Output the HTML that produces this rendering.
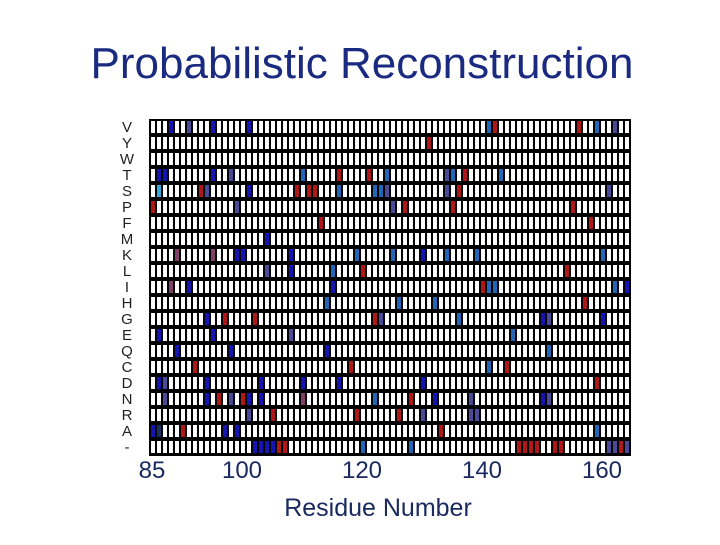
<!DOCTYPE html>
<html><head><meta charset="utf-8"><style>
body{margin:0;background:#fff;}
svg text{font-family:"Liberation Sans",Arial,sans-serif;}
</style></head><body>
<svg id="chart" width="720" height="540" viewBox="0 0 720 540" xmlns="http://www.w3.org/2000/svg">
<text x="362" y="78" font-size="44" fill="#1a2a80" text-anchor="middle">Probabilistic Reconstruction</text>
<rect x="149" y="119" width="482" height="337" fill="#000"/>
<g id="cells"></g>
<g id="ylabels"></g>
<g id="xticks"></g>
<text x="378" y="516" font-size="25" fill="#1a2a60" text-anchor="middle">Residue Number</text>
</svg>
<script>
const rowLabels = ["V","Y","W","T","S","P","F","M","K","L","I","H","G","E","Q","C","D","N","R","A","-"];
const firstResidue = 85;
const numResidues = 80;
const xTickValues = [85,100,120,140,160];
// [row, residue offset column, color key]
const cellRows = [0,0,0,0,0,0,0,0,0, 1, 3,3,3,3,3,3,3,3,3,3,3,3, 4,4,4,4,4,4,4,4,4,4,4,4,4,4, 5,5,5,5,5,5, 6,6, 7, 8,8,8,8,8,8,8,8,8,8,8, 9,9,9,9,9, 10,10,10,10,10,10,10,10, 11,11,11,11, 12,12,12,12,12,12,12,12,12, 13,13,13,13, 14,14,14,14, 15,15,15,15, 16,16,16,16,16,16,16,16, 17,17,17,17,17,17,17,17,17,17,17,17,17,17, 18,18,18,18,18,18,18, 19,19,19,19,19,19,19, 20,20,20,20,20,20,20,20,20,20,20,20,20,20,20,20,20,20];
const cellCols = [3,6,10,16,56,57,71,74,77, 46, 1,2,10,13,25,31,36,39,49,50,52,58, 1,8,9,16,24,26,27,31,37,38,39,49,51,76, 0,14,40,42,50,70, 28,73, 19, 4,10,14,15,23,34,40,45,49,54,75, 19,23,30,35,69, 3,6,30,55,56,57,77,79, 29,41,47,72, 9,12,17,37,38,51,65,66,75, 1,10,23,60, 4,13,29,66, 7,33,56,59, 1,2,9,18,25,31,45,74, 2,9,11,13,15,16,18,25,37,43,47,53,65,66, 16,20,34,41,45,53,54, 0,1,5,12,14,48,74, 17,18,19,20,21,22,35,43,61,62,63,64,67,68,76,77,78,79];
const cellKinds = ["B","P","B","B","L","R","R","L","P", "R", "B","B","B","P","L","R","R","L","P","L","R","L", "C","R","P","B","R","R","R","L","L","L","P","P","R","P", "R","P","P","R","R","R", "R","R", "B", "M","M","B","B","B","L","L","B","L","L","L", "P","B","L","R","R", "M","B","B","R","L","L","L","B", "L","L","L","R", "B","R","R","R","P","L","B","P","B", "B","B","P","L", "B","B","B","L", "R","R","L","R", "B","P","B","B","B","B","B","R", "P","B","R","P","R","B","B","M","L","R","B","P","B","P", "P","R","R","R","P","P","P", "B","D","R","B","B","R","L", "B","B","B","B","R","R","L","L","R","R","R","R","R","R","P","P","R","P"];
const palette = {B:"#1414b0",P:"#4a4a98",L:"#2266b8",R:"#b01818",C:"#33aadd",M:"#804068",D:"#183060"};
const NS="http://www.w3.org/2000/svg";
const x0=149, colW=6, y0=119, rowH=16;
function xCol(c){return x0+2+c*colW;}
function yRow(r){return y0+2+r*rowH;}
function xRes(res){return x0+3+(res-firstResidue)*colW;}
const cg=document.getElementById('cells');
const colorMap={};
for(let i=0;i<cellRows.length;i++){colorMap[cellRows[i]+"_"+cellCols[i]]=palette[cellKinds[i]];}
for(let r=0;r<rowLabels.length;r++){
  for(let c=0;c<numResidues;c++){
    const rect=document.createElementNS(NS,'rect');
    
    
    rect.setAttribute('x',xCol(c));rect.setAttribute('y',yRow(r));
    rect.setAttribute('width',4);rect.setAttribute('height',12);
    rect.setAttribute('fill',colorMap[r+"_"+c]||"#fff");
    cg.appendChild(rect);
  }
}
const yg=document.getElementById('ylabels');
rowLabels.forEach((l,r)=>{
  const t=document.createElementNS(NS,'text');
  
  
  t.setAttribute('x',127);t.setAttribute('y',yRow(r)+11);
  t.setAttribute('font-size',15);t.setAttribute('text-anchor','middle');t.setAttribute('fill','#222');
  t.textContent=l;yg.appendChild(t);
});
const xg=document.getElementById('xticks');
xTickValues.forEach(v=>{
  const t=document.createElementNS(NS,'text');
  
  
  t.setAttribute('x',xRes(v));t.setAttribute('y',478);
  t.setAttribute('font-size',24);t.setAttribute('text-anchor','middle');t.setAttribute('fill','#1a2a60');
  t.textContent=v;xg.appendChild(t);
});
</script>
</body></html>
